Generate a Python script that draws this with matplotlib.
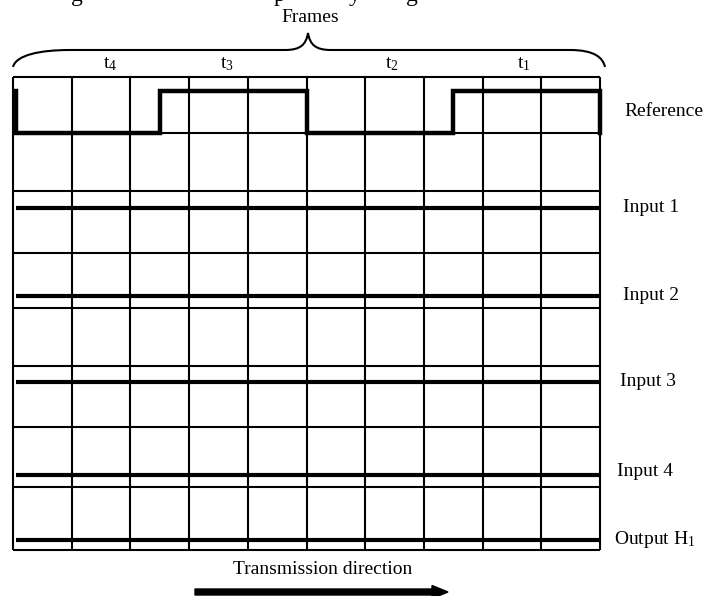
import matplotlib
matplotlib.use('Agg')
import matplotlib.pyplot as plt
from matplotlib.path import Path
from matplotlib.patches import PathPatch

plt.rcParams['font.family'] = ['Liberation Serif', 'DejaVu Serif']
plt.rcParams['mathtext.fontset'] = 'custom'
plt.rcParams['mathtext.rm'] = 'Liberation Serif'
plt.rcParams['mathtext.it'] = 'Liberation Serif:italic'

# DATA

signal_names = ['Reference', 'Input 1', 'Input 2', 'Input 3', 'Input 4', 'Output H$_1$']
frame_labels = ['t$_4$', 't$_3$', 't$_2$', 't$_1$']
frame_pos = [1.65, 3.65, 6.45, 8.7]          # in column units
n_cols = 10

# reference square wave: edges (columns) and level in each span (1 = high, 0 = low)
ref_edges = [0, 2.5, 5, 7.5, 10]
ref_levels = [0, 1, 0, 1]

# other channels are flat (always low)
input_levels = [0, 0, 0, 0, 0]

# LAYOUT (pixel rows measured from the top of the grid)
thin_rows = [0, 56, 114, 176, 231, 289, 350, 410, 473]
ref_hi, ref_lo = 14, 56
flat_rows = [131, 219, 305, 398, 463]
label_rows = [34, 131, 219, 304, 395, 463]
label_x = [10.42, 10.39, 10.39, 10.34, 10.29, 10.24]

W, H = 709, 596
fig = plt.figure(figsize=(W / 100, H / 100), dpi=100)

# overlay axes in pixel coordinates for decorations
over = fig.add_axes([0, 0, 1, 1], zorder=0)
over.set_xlim(0, W)
over.set_ylim(H, 0)
over.axis('off')

# main grid axes
gx0, gx1, gy0, gy1 = 13, 600, 77, 550
ax = fig.add_axes([gx0 / W, (H - gy1) / H, (gx1 - gx0) / W, (gy1 - gy0) / H], zorder=1)
ax.set_xlim(0, n_cols)
ax.set_ylim(gy1 - gy0, 0)
ax.axis('off')

# grid
for c in range(n_cols + 1):
    ax.plot([c, c], [0, gy1 - gy0], color='black', lw=1.5, solid_capstyle='butt', clip_on=False)
for r in thin_rows:
    ax.plot([0, n_cols], [r, r], color='black', lw=1.5, solid_capstyle='butt', clip_on=False)

# reference waveform
xs, ys = [0.05], [ref_hi]
for i, lev in enumerate(ref_levels):
    y = ref_hi if lev else ref_lo
    xs += [ref_edges[i] if i else 0.05, ref_edges[i + 1]]
    ys += [y, y]
xs.append(n_cols)
ys.append(ref_lo)
ax.plot(xs, ys, color='black', lw=3.2, solid_joinstyle='miter', clip_on=False)

# flat channels
for r, lev in zip(flat_rows, input_levels):
    ax.plot([0.05, n_cols], [r, r], color='black', lw=3.0, solid_capstyle='butt', clip_on=False)

# channel labels
for name, x, y in zip(signal_names, label_x, label_rows):
    ax.text(x, y, name, fontsize=14, ha='left', va='center', clip_on=False)

# frame labels
for lab, x in zip(frame_labels, frame_pos):
    ax.text(x, 64 - gy0, lab, fontsize=14, ha='center', va='center', clip_on=False)

# brace
verts = [(13, 67), (16, 55), (40, 50), (70, 50),
         (285, 50), (300, 50), (306, 45), (308, 33),
         (310, 45), (316, 50), (331, 50),
         (570, 50), (595, 50), (603, 58), (605, 67)]
codes = [Path.MOVETO, Path.CURVE4, Path.CURVE4, Path.CURVE4,
         Path.LINETO, Path.CURVE4, Path.CURVE4, Path.CURVE4,
         Path.CURVE4, Path.CURVE4, Path.CURVE4,
         Path.LINETO, Path.CURVE4, Path.CURVE4, Path.CURVE4]
over.add_patch(PathPatch(Path(verts, codes), fill=False, lw=1.5, color='black'))
over.text(310, 17, 'Frames', fontsize=14, ha='center', va='center')

# cut-off caption line at the very top
for ch, x in zip(['g', 'p', 'y', 'g'], [77, 280, 355, 412]):
    over.text(x, 1, ch, fontsize=17, ha='center', va='baseline')

# transmission direction
over.text(323, 570, 'Transmission direction', fontsize=14, ha='center', va='center')
over.arrow(195, 592, 253, 0, width=6, head_width=13, head_length=16,
           length_includes_head=True, color='black')

fig.savefig('out.png', dpi=100, facecolor='white')
